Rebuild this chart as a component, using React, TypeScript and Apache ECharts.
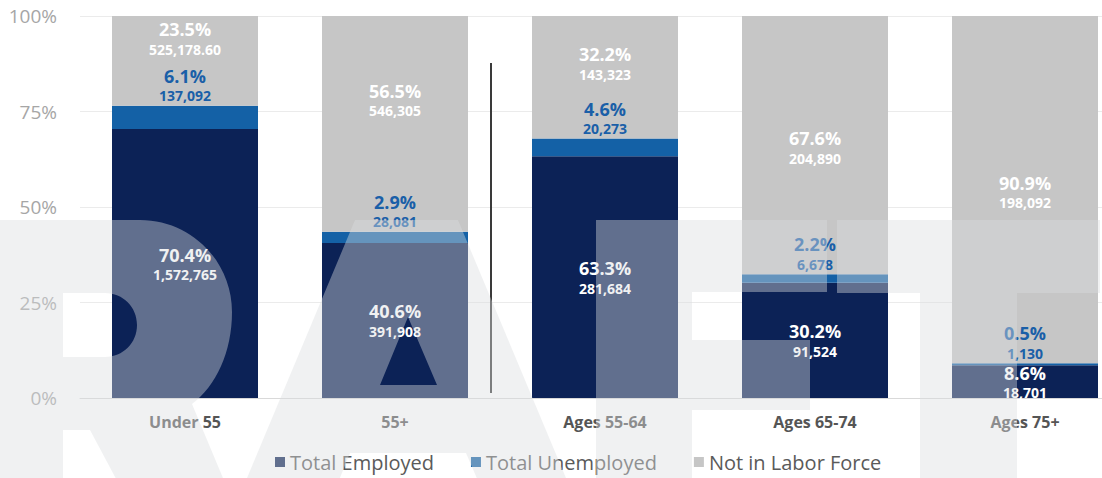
import React, { useEffect, useRef } from 'react';
import * as echarts from 'echarts';

const categories = ['Under 55', '55+', 'Ages 55-64', 'Ages 65-74', 'Ages 75+'];
const seriesNames = ['Total Employed', 'Total Unemployed', 'Not in Labor Force'];
const employedPct = [70.4, 40.6, 63.3, 30.2, 8.6];
const unemployedPct = [6.1, 2.9, 4.6, 2.2, 0.5];
const nilfPct = [23.5, 56.5, 32.2, 67.6, 90.9];
const employedCount = [1572765, 391908, 281684, 91524, 18701];
const unemployedCount = [137092, 28081, 20273, 6678, 1130];
const nilfCount = [525178.6, 546305, 143323, 204890, 198092];
const yMin = 0;
const yMax = 100;
const yStep = 25;

// label placement tweaks for the "Not in Labor Force" segment
const nilfLabelPos = ['insideTop', 'inside', 'inside', 'inside', 'inside'];
const nilfLabelOffset = [[0, 0], [0, -24], [0, -14], [0, 2], [0, 2]];

const COLORS = ['#0c2256', '#1461a6', '#c6c6c6'];
const FONT = 'Open Sans';

// DRAFT-style watermark outline (R A F T visible)
const WATERMARK = [
  'M -40 220 L 140 220 C 191 220 232 261 232 312 C 232 352 216 386 192 404 L 228 490 L 122 490 L 90 430 L 63 430 L 63 490 L -40 490 Z',
  'M 63 293 L 63 357 L 105 357 C 123 357 137 343 137 325 C 137 307 123 293 105 293 Z',
  'M 355 220 L 458 220 L 571 490 L 482 490 L 466 453 L 350 453 L 335 490 L 242 490 Z',
  'M 408 317 L 380 385 L 437 385 Z',
  'M 596 220 L 827 220 L 827 292 L 692 292 L 692 340 L 810 340 L 810 410 L 692 410 L 692 490 L 596 490 Z',
  'M 837 220 L 1100 220 L 1100 293 L 1017 293 L 1017 490 L 920 490 L 920 293 L 837 293 Z',
].join(' ');

let registered = false;
function registerWatermark() {
  if (registered) return;
  echarts.graphic.registerShape('logo', echarts.graphic.extendPath(WATERMARK, {}));
  registered = true;
}

function fmtCount(n: number): string {
  return Number.isInteger(n)
    ? n.toLocaleString('en-US')
    : n.toLocaleString('en-US', { minimumFractionDigits: 2, maximumFractionDigits: 2 });
}

function makeFormatter(counts: number[]) {
  return (p: any) => {
    const v = typeof p.value === 'number' ? p.value : Number(p.value);
    return `{p|${v.toFixed(1)}%}\n{v|${fmtCount(counts[p.dataIndex])}}`;
  };
}

function rich(color: string) {
  return {
    p: { fontSize: 18, fontWeight: 'bold', color, lineHeight: 22, fontFamily: FONT },
    v: { fontSize: 14, fontWeight: 'bold', color, lineHeight: 18, fontFamily: FONT },
  };
}

export default function App() {
  const ref = useRef<HTMLDivElement>(null);
  useEffect(() => {
    if (!ref.current) return;
    registerWatermark();
    const chart = echarts.init(ref.current, undefined, { renderer: 'svg' });
    const option: any = {
      animation: false,
      backgroundColor: '#ffffff',
      textStyle: { fontFamily: FONT },
      grid: { left: 80, top: 16, right: 10, bottom: 80, containLabel: false },
      legend: {
        data: seriesNames,
        left: 270,
        top: 447,
        icon: 'rect',
        itemWidth: 10,
        itemHeight: 10,
        itemGap: 37,
        textStyle: { fontSize: 20, color: '#5a5a5a', fontFamily: FONT },
      },
      xAxis: {
        type: 'category',
        data: categories,
        axisTick: { show: false },
        axisLine: { show: true, lineStyle: { color: '#d9d9d9', width: 1 } },
        axisLabel: { color: '#555555', fontSize: 16, fontWeight: 'bold', margin: 16, fontFamily: FONT },
      },
      yAxis: {
        type: 'value',
        min: yMin,
        max: yMax,
        interval: yStep,
        axisLine: { show: false },
        axisTick: { show: false },
        splitLine: { lineStyle: { color: '#ebebeb', width: 1 } },
        axisLabel: { formatter: '{value}%', color: '#a6a6a6', fontSize: 19, margin: 23, fontFamily: FONT },
      },
      series: [
        {
          name: seriesNames[0],
          type: 'bar',
          stack: 'total',
          barWidth: 146,
          itemStyle: { color: COLORS[0] },
          data: employedPct,
          label: {
            show: true,
            position: 'inside',
            formatter: makeFormatter(employedCount),
            rich: rich('#ffffff'),
          },
        },
        {
          name: seriesNames[1],
          type: 'bar',
          stack: 'total',
          barWidth: 146,
          itemStyle: { color: COLORS[1] },
          data: unemployedPct,
          label: {
            show: true,
            position: 'top',
            distance: 1,
            formatter: makeFormatter(unemployedCount),
            rich: rich('#1a5fa8'),
          },
        },
        {
          name: seriesNames[2],
          type: 'bar',
          stack: 'total',
          barWidth: 146,
          itemStyle: { color: COLORS[2] },
          data: nilfPct.map((v, i) => ({
            value: v,
            label: { position: nilfLabelPos[i], offset: nilfLabelOffset[i], distance: 2 },
          })),
          label: {
            show: true,
            position: 'inside',
            formatter: makeFormatter(nilfCount),
            rich: rich('#ffffff'),
          },
        },
      ],
      graphic: [
        {
          type: 'line',
          z: 50,
          shape: { x1: 491, y1: 63, x2: 491, y2: 393 },
          style: { stroke: '#3a3a3a', lineWidth: 2 },
        },
        {
          type: 'logo',
          x: 0,
          y: 0,
          z: 100,
          silent: true,
          style: { fill: 'rgba(218,220,224,0.41)', stroke: 'none' },
        },
      ],
    };
    chart.setOption(option);
    return () => chart.dispose();
  }, []);
  return (
    <div
      ref={ref}
      style={{ position: 'fixed', left: 0, top: 0, width: 1140, height: 478, background: '#fff' }}
    />
  );
}
